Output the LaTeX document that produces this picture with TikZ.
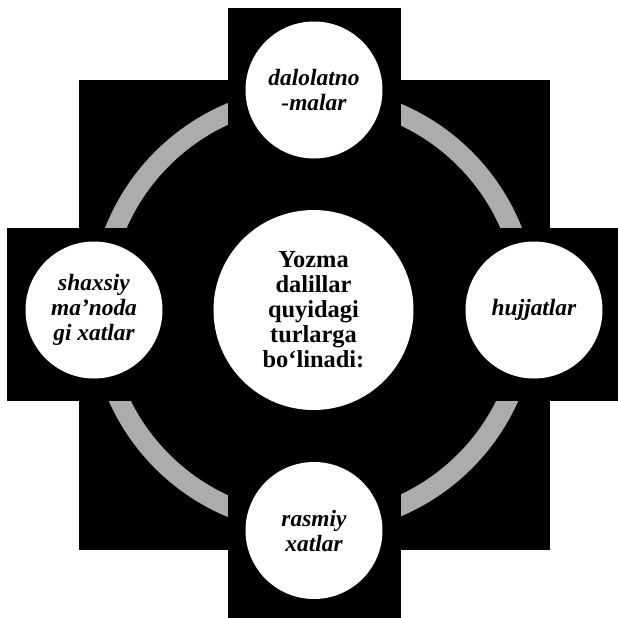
\documentclass[tikz,border=0pt]{standalone}
\usepackage{fontspec}
\setmainfont{Liberation Serif}
\begin{document}
\begin{tikzpicture}[x=0.5pt,y=-0.5pt, line join=round,
		bubble/.style={circle,fill=white,inner sep=0pt,align=center,minimum size=68.5pt,font=\fontsize{11.7}{12.5}\selectfont\bfseries\itshape},
		hub/.style={circle,fill=white,inner sep=0pt,align=center,minimum size=100pt,font=\fontsize{12.2}{12.5}\selectfont\bfseries}]
	\useasboundingbox (0,0) rectangle (618,618);
	\fill[black] (79,80) rectangle (550,550);
	\draw[line width=10pt,gray!65] (313.5,310) circle[radius=107pt];
	\fill[black] (228,8) rectangle (401,618);
	\fill[black] (7,228) rectangle (618,401);
	\node[hub] (yozma) at (313.5,310) {Yozma\\dalillar\\quyidagi\\turlarga\\bo‘linadi:};
	\node[bubble] (dalolat) at (314,90) {dalolatno\\-malar};
	\node[bubble] (hujjat) at (534,310) {hujjatlar};
	\node[bubble] (rasmiy) at (314,530.5) {rasmiy\\xatlar};
	\node[bubble] (shaxsiy) at (94,310) {shaxsiy\\ma’noda\\gi xatlar};
\end{tikzpicture}
\end{document}
